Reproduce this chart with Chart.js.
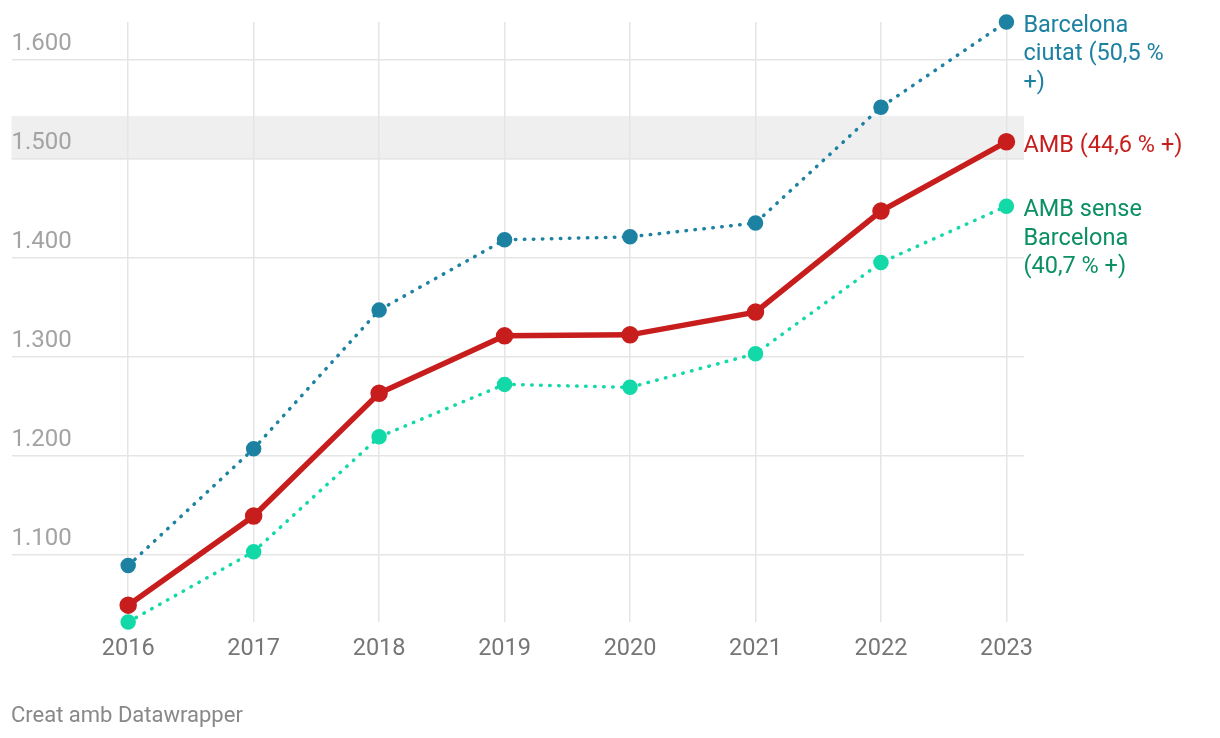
<!DOCTYPE html>
<html lang="ca">
<head>
<meta charset="utf-8">
<title>Evolució</title>
<script src="https://cdn.jsdelivr.net/npm/chart.js@4.4.1/dist/chart.umd.min.js"></script>
<style>
    body { margin: 0; background: #fff; font-family: Roboto, sans-serif; }
    .wrap { position: relative; width: 1220px; height: 738px; }
    #credit { position: absolute; left: 11px; top: 702px; font-size: 22px; color: #888; }
</style>
</head>
<body>
<div class="wrap">
    <canvas id="myChart" width="1220" height="738"></canvas>
    <div id="credit">Creat amb Datawrapper</div>
</div>
<script>
// data
const years = [2016, 2017, 2018, 2019, 2020, 2021, 2022, 2023];
const barcelona = [1089, 1207, 1347, 1418, 1421, 1435, 1552, 1638];
const amb = [1049, 1139, 1263, 1321, 1322, 1345, 1447, 1517];
const ambSense = [1032, 1103, 1219, 1272, 1269, 1303, 1395, 1452];
const yTicks = [1100, 1200, 1300, 1400, 1500, 1600];
const endLabels = [
    ['Barcelona', 'ciutat (50,5 %', '+)'],
    ['AMB (44,6 % +)'],
    ['AMB sense', 'Barcelona', '(40,7 % +)']
];
const bandFrom = 1500;
const bandTo = 1543;

const lineColors = ['#1d81a2', '#c71e1d', '#12d9a7'];
const labelColors = ['#1d81a2', '#c71e1d', '#0b8f63'];

const allValues = barcelona.concat(amb, ambSense);

function toPoints(values) {
    return values.map((v, i) => ({ x: years[i], y: v }));
}

function fmt(v) {
    return String(v).replace(/\B(?=(\d{3})+$)/g, '.');
}

// grey band behind the grid
const bandPlugin = {
    id: 'band',
    beforeDraw(chart) {
        const { ctx, chartArea, scales } = chart;
        const top = scales.y.getPixelForValue(bandTo);
        const bottom = scales.y.getPixelForValue(bandFrom);
        ctx.save();
        ctx.fillStyle = '#efefef';
        ctx.fillRect(chartArea.left, top, chartArea.right - chartArea.left, bottom - top + 1);
        ctx.restore();
    }
};

// labels at the end of each line
const endLabelPlugin = {
    id: 'endLabels',
    afterDatasetsDraw(chart) {
        const ctx = chart.ctx;
        ctx.save();
        ctx.font = '23.5px Roboto';
        ctx.textBaseline = 'middle';
        ctx.textAlign = 'left';
        chart.data.datasets.forEach((ds, i) => {
            const meta = chart.getDatasetMeta(i);
            const pt = meta.data[meta.data.length - 1];
            ctx.fillStyle = labelColors[i];
            endLabels[i].forEach((line, j) => {
                ctx.fillText(line, pt.x + 17, pt.y + 4 + j * 28.5);
            });
        });
        ctx.restore();
    }
};

const dotted = {
    borderWidth: 3.5,
    borderDash: [0.5, 8.5],
    borderCapStyle: 'round',
    pointRadius: 6
};

var ctx = document.getElementById('myChart').getContext('2d');

var myChart = new Chart(ctx, {
    type: 'line',
    data: {
        datasets: [
            Object.assign({
                label: 'Barcelona ciutat',
                data: toPoints(barcelona),
                borderColor: lineColors[0],
                backgroundColor: lineColors[0]
            }, dotted),
            {
                label: 'AMB',
                data: toPoints(amb),
                borderColor: lineColors[1],
                backgroundColor: lineColors[1],
                borderWidth: 5.5,
                pointRadius: 6
            },
            Object.assign({
                label: 'AMB sense Barcelona',
                data: toPoints(ambSense),
                borderColor: lineColors[2],
                backgroundColor: lineColors[2]
            }, dotted)
        ]
    },
    options: {
        responsive: false,
        animation: false,
        devicePixelRatio: 1,
        clip: false,
        layout: {
            padding: { left: 11, top: 22, right: 196, bottom: 0 }
        },
        elements: {
            point: { borderWidth: 0, hoverRadius: 6 },
            line: { tension: 0 }
        },
        scales: {
            x: {
                type: 'linear',
                min: years[0] - 0.93,
                max: years[years.length - 1] + 0.14,
                afterBuildTicks: (s) => { s.ticks = years.map(v => ({ value: v })); },
                afterFit: (s) => { s.height = 116; },
                border: { display: false },
                grid: { color: '#e5e5e5', lineWidth: 1.5, drawTicks: false },
                ticks: {
                    color: '#767676',
                    font: { family: 'Roboto', size: 23.5 },
                    padding: 13.5,
                    maxRotation: 0,
                    autoSkip: false,
                    callback: (v) => String(v)
                }
            },
            y: {
                min: Math.min(...allValues),
                max: Math.max(...allValues),
                afterBuildTicks: (s) => { s.ticks = yTicks.map(v => ({ value: v })); },
                afterFit: (s) => { s.width = 0; },
                border: { display: false },
                grid: { color: '#e5e5e5', lineWidth: 1.5, drawTicks: false },
                ticks: {
                    mirror: true,
                    padding: 0,
                    labelOffset: -16,
                    color: '#a3a3a3',
                    font: { family: 'Roboto', size: 24 },
                    callback: (v) => fmt(v)
                }
            }
        },
        plugins: {
            legend: { display: false },
            tooltip: { enabled: false }
        }
    },
    plugins: [bandPlugin, endLabelPlugin]
});
</script>
</body>
</html>
